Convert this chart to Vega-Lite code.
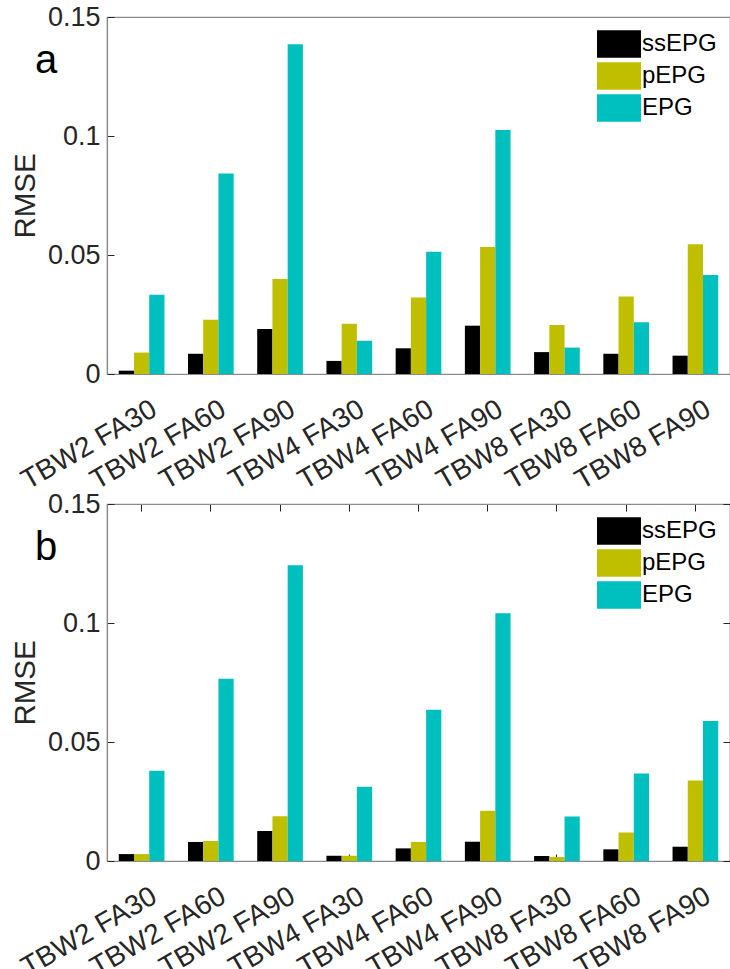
{
  "$schema": "https://vega.github.io/schema/vega-lite/v6.json",
  "padding": {"left": 9, "top": 2, "right": 0, "bottom": 0},
  "background": "white",
  "config": {
    "font": "Liberation Sans",
    "view": {"stroke": "#8a8a8a", "strokeWidth": 1.2},
    "axis": {"labelFont": "Liberation Sans", "titleFont": "Liberation Sans", "labelColor": "#262626", "titleColor": "#262626", "domainColor": "#8a8a8a", "tickColor": "#262626", "labelFontSize": 27, "titleFontSize": 29.5, "titleFontWeight": "normal", "grid": false, "zindex": 1, "tickSize": -7, "domainWidth": 1.2, "tickWidth": 1}
  },
  "datasets": {
    "a": [
      {"cat": "TBW2 FA30", "method": "ssEPG", "value": 0.0014},
      {"cat": "TBW2 FA30", "method": "pEPG", "value": 0.0090},
      {"cat": "TBW2 FA30", "method": "EPG", "value": 0.0333},
      {"cat": "TBW2 FA60", "method": "ssEPG", "value": 0.0085},
      {"cat": "TBW2 FA60", "method": "pEPG", "value": 0.0228},
      {"cat": "TBW2 FA60", "method": "EPG", "value": 0.0842},
      {"cat": "TBW2 FA90", "method": "ssEPG", "value": 0.0189},
      {"cat": "TBW2 FA90", "method": "pEPG", "value": 0.0399},
      {"cat": "TBW2 FA90", "method": "EPG", "value": 0.1385},
      {"cat": "TBW4 FA30", "method": "ssEPG", "value": 0.0055},
      {"cat": "TBW4 FA30", "method": "pEPG", "value": 0.0211},
      {"cat": "TBW4 FA30", "method": "EPG", "value": 0.0140},
      {"cat": "TBW4 FA60", "method": "ssEPG", "value": 0.0108},
      {"cat": "TBW4 FA60", "method": "pEPG", "value": 0.0321},
      {"cat": "TBW4 FA60", "method": "EPG", "value": 0.0514},
      {"cat": "TBW4 FA90", "method": "ssEPG", "value": 0.0203},
      {"cat": "TBW4 FA90", "method": "pEPG", "value": 0.0534},
      {"cat": "TBW4 FA90", "method": "EPG", "value": 0.1025},
      {"cat": "TBW8 FA30", "method": "ssEPG", "value": 0.0092},
      {"cat": "TBW8 FA30", "method": "pEPG", "value": 0.0206},
      {"cat": "TBW8 FA30", "method": "EPG", "value": 0.0111},
      {"cat": "TBW8 FA60", "method": "ssEPG", "value": 0.0085},
      {"cat": "TBW8 FA60", "method": "pEPG", "value": 0.0326},
      {"cat": "TBW8 FA60", "method": "EPG", "value": 0.0217},
      {"cat": "TBW8 FA90", "method": "ssEPG", "value": 0.0077},
      {"cat": "TBW8 FA90", "method": "pEPG", "value": 0.0545},
      {"cat": "TBW8 FA90", "method": "EPG", "value": 0.0416}
    ],
    "b": [
      {"cat": "TBW2 FA30", "method": "ssEPG", "value": 0.0029},
      {"cat": "TBW2 FA30", "method": "pEPG", "value": 0.0029},
      {"cat": "TBW2 FA30", "method": "EPG", "value": 0.0379},
      {"cat": "TBW2 FA60", "method": "ssEPG", "value": 0.0080},
      {"cat": "TBW2 FA60", "method": "pEPG", "value": 0.0084},
      {"cat": "TBW2 FA60", "method": "EPG", "value": 0.0766},
      {"cat": "TBW2 FA90", "method": "ssEPG", "value": 0.0126},
      {"cat": "TBW2 FA90", "method": "pEPG", "value": 0.0188},
      {"cat": "TBW2 FA90", "method": "EPG", "value": 0.1243},
      {"cat": "TBW4 FA30", "method": "ssEPG", "value": 0.0022},
      {"cat": "TBW4 FA30", "method": "pEPG", "value": 0.0022},
      {"cat": "TBW4 FA30", "method": "EPG", "value": 0.0312},
      {"cat": "TBW4 FA60", "method": "ssEPG", "value": 0.0053},
      {"cat": "TBW4 FA60", "method": "pEPG", "value": 0.0080},
      {"cat": "TBW4 FA60", "method": "EPG", "value": 0.0636},
      {"cat": "TBW4 FA90", "method": "ssEPG", "value": 0.0081},
      {"cat": "TBW4 FA90", "method": "pEPG", "value": 0.0211},
      {"cat": "TBW4 FA90", "method": "EPG", "value": 0.1041},
      {"cat": "TBW8 FA30", "method": "ssEPG", "value": 0.0021},
      {"cat": "TBW8 FA30", "method": "pEPG", "value": 0.0017},
      {"cat": "TBW8 FA30", "method": "EPG", "value": 0.0187},
      {"cat": "TBW8 FA60", "method": "ssEPG", "value": 0.0049},
      {"cat": "TBW8 FA60", "method": "pEPG", "value": 0.0120},
      {"cat": "TBW8 FA60", "method": "EPG", "value": 0.0368},
      {"cat": "TBW8 FA90", "method": "ssEPG", "value": 0.0060},
      {"cat": "TBW8 FA90", "method": "pEPG", "value": 0.0338},
      {"cat": "TBW8 FA90", "method": "EPG", "value": 0.0588}
    ]
  },
  "spacing": 130,
  "bounds": "flush",
  "resolve": {"scale": {"color": "independent"}, "legend": {"color": "independent"}},
  "vconcat": [
    {
      "width": 623,
      "height": 357,
      "resolve": {"axis": {"x": "independent", "y": "independent"}},
      "layer": [
        {
          "data": {"name": "a"},
          "mark": {"type": "bar"},
          "encoding": {
            "x": {"field": "cat", "type": "nominal", "sort": null, "scale": {"paddingInner": 0.34, "paddingOuter": 0.17}, "axis": {"orient": "bottom", "title": null, "labelAngle": -30, "labelAlign": "right", "labelBaseline": "top", "labelFontSize": 28, "labelPadding": 28, "labelOffset": 6}},
            "xOffset": {"field": "method", "type": "nominal", "sort": ["ssEPG", "pEPG", "EPG"], "scale": {"paddingInner": 0, "paddingOuter": 0}},
            "y": {"field": "value", "type": "quantitative", "scale": {"domain": [0, 0.15], "nice": false}, "axis": {"orient": "left", "values": [0, 0.05, 0.1, 0.15], "format": ".2~f", "title": "RMSE", "labelPadding": 14, "titlePadding": 7}},
            "color": {"field": "method", "type": "nominal", "scale": {"domain": ["ssEPG", "pEPG", "EPG"], "range": ["#000000", "#BFBF00", "#00BFBF"]}, "legend": {"title": null, "orient": "top-right", "offset": 13, "labelFontSize": 24, "labelColor": "#000000", "labelFont": "Liberation Sans", "labelOffset": 9, "symbolType": "M-1.571,-0.982H1.571V0.982H-1.571Z", "symbolSize": 784, "symbolStrokeWidth": 0, "rowPadding": 4, "padding": 0}}
          }
        },
        {
          "data": {"values": [{"panel": "a", "cat": "TBW2 FA30", "pos": 0.1263}]},
          "mark": {"type": "text", "align": "left", "baseline": "alphabetic", "fontSize": 40, "font": "Liberation Sans", "color": "#000000", "dx": -106.6},
          "encoding": {
            "text": {"field": "panel"},
            "x": {"field": "cat", "type": "nominal", "sort": null, "axis": null},
            "y": {"field": "pos", "type": "quantitative", "axis": null}
          }
        }
      ]
    },
    {
      "width": 623,
      "height": 357,
      "resolve": {"axis": {"x": "independent", "y": "independent"}},
      "layer": [
        {
          "data": {"name": "b"},
          "mark": {"type": "bar"},
          "encoding": {
            "x": {"field": "cat", "type": "nominal", "sort": null, "scale": {"paddingInner": 0.34, "paddingOuter": 0.17}, "axis": {"orient": "bottom", "title": null, "labelAngle": -30, "labelAlign": "right", "labelBaseline": "top", "labelFontSize": 28, "labelPadding": 28, "labelOffset": 6}},
            "xOffset": {"field": "method", "type": "nominal", "sort": ["ssEPG", "pEPG", "EPG"], "scale": {"paddingInner": 0, "paddingOuter": 0}},
            "y": {"field": "value", "type": "quantitative", "scale": {"domain": [0, 0.15], "nice": false}, "axis": {"orient": "left", "values": [0, 0.05, 0.1, 0.15], "format": ".2~f", "title": "RMSE", "labelPadding": 14, "titlePadding": 7}},
            "color": {"field": "method", "type": "nominal", "scale": {"domain": ["ssEPG", "pEPG", "EPG"], "range": ["#000000", "#BFBF00", "#00BFBF"]}, "legend": {"title": null, "orient": "top-right", "offset": 13, "labelFontSize": 24, "labelColor": "#000000", "labelFont": "Liberation Sans", "labelOffset": 9, "symbolType": "M-1.571,-0.982H1.571V0.982H-1.571Z", "symbolSize": 784, "symbolStrokeWidth": 0, "rowPadding": 4, "padding": 0}}
          }
        },
        {
          "data": {"name": "b"},
          "mark": {"type": "bar", "opacity": 0},
          "encoding": {
            "x": {"field": "cat", "type": "nominal", "sort": null, "axis": {"orient": "top", "title": null, "labels": false}},
            "y": {"field": "value", "type": "quantitative", "axis": {"orient": "right", "values": [0, 0.05, 0.1, 0.15], "title": null, "labels": false}}
          }
        },
        {
          "data": {"values": [{"panel": "b", "cat": "TBW2 FA30", "pos": 0.1263}]},
          "mark": {"type": "text", "align": "left", "baseline": "alphabetic", "fontSize": 40, "font": "Liberation Sans", "color": "#000000", "dx": -106.6},
          "encoding": {
            "text": {"field": "panel"},
            "x": {"field": "cat", "type": "nominal", "sort": null, "axis": null},
            "y": {"field": "pos", "type": "quantitative", "axis": null}
          }
        }
      ]
    }
  ]
}
